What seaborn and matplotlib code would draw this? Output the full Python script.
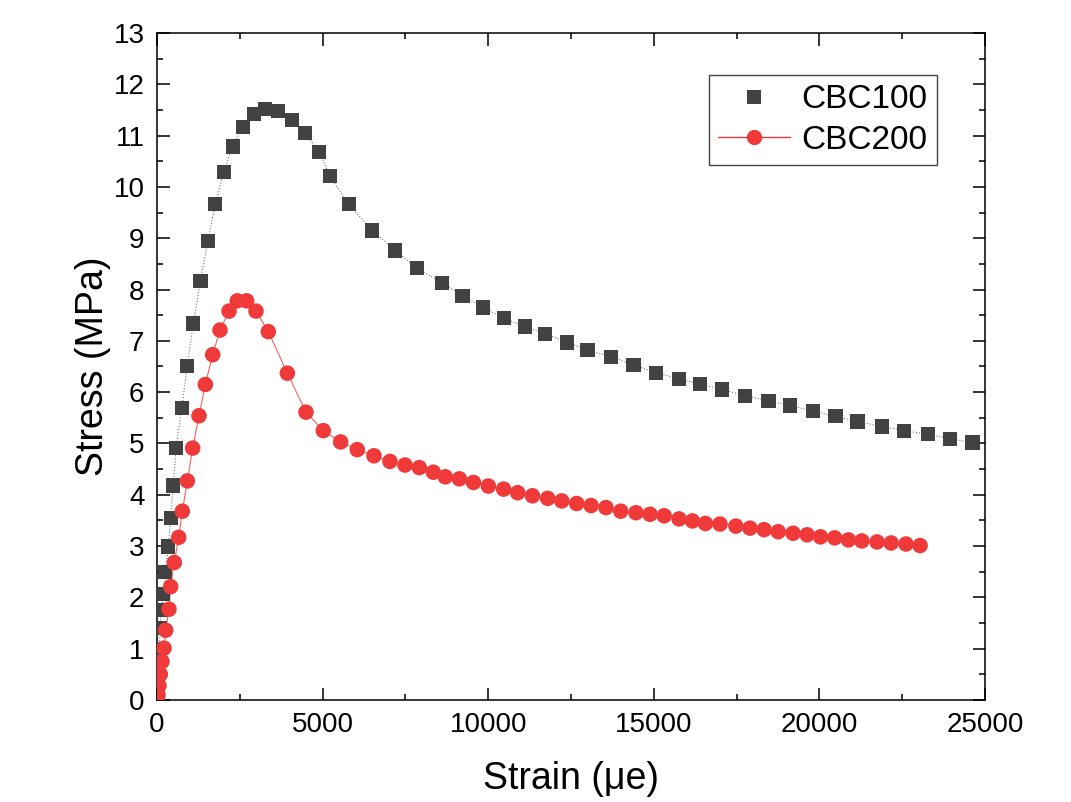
import numpy as np
import pandas as pd
import seaborn as sns
import matplotlib.pyplot as plt
from matplotlib.lines import Line2D
from matplotlib.ticker import MultipleLocator

# CBC100 数据 (应变 με, 应力 MPa)
strain_100 = [0, 20, 40, 65, 95, 130, 191, 242, 342, 413, 493, 574, 745, 916,
              1097, 1310, 1530, 1762, 2012, 2284, 2586, 2918, 3270, 3653, 4085,
              4477, 4900, 5223, 5787, 6500, 7195, 7850, 8600, 9226, 9845,
              10473, 11101, 11720, 12381, 12999, 13715, 14386, 15068, 15750,
              16390, 17062, 17765, 18460, 19121, 19813, 20486, 21147, 21893,
              22543, 23268, 23950, 24620]
stress_100 = [0, 0.3, 0.65, 1.0, 1.4, 1.75, 2.06, 2.49, 2.99, 3.55, 4.18, 4.91,
              5.69, 6.51, 7.34, 8.16, 8.94, 9.66, 10.29, 10.79, 11.17, 11.42,
              11.52, 11.48, 11.30, 11.05, 10.68, 10.21, 9.66, 9.15, 8.76, 8.42,
              8.13, 7.88, 7.65, 7.44, 7.28, 7.14, 6.97, 6.82, 6.69, 6.53, 6.38,
              6.26, 6.16, 6.05, 5.93, 5.83, 5.74, 5.63, 5.53, 5.43, 5.33, 5.25,
              5.18, 5.09, 5.02]

# CBC200 数据
strain_200 = [0, 30, 60, 100, 150, 211, 262, 362, 413, 523, 655, 765, 916, 1077,
              1268, 1459, 1681, 1902, 2174, 2424, 2707, 2989, 3361, 3935, 4498,
              5021, 5544, 6046, 6551, 7034, 7487, 7919, 8342, 8703, 9129, 9555,
              10005, 10464, 10890, 11336, 11795, 12221, 12671, 13106, 13556,
              14002, 14461, 14887, 15313, 15762, 16167, 16560, 16998, 17478,
              17904, 18331, 18757, 19205, 19630, 20035, 20462, 20876, 21281,
              21740, 22167, 22614, 23040]
stress_200 = [0, 0.1, 0.28, 0.5, 0.75, 1.01, 1.36, 1.77, 2.21, 2.68, 3.17, 3.68,
              4.27, 4.91, 5.54, 6.15, 6.73, 7.21, 7.58, 7.78, 7.78, 7.58, 7.18,
              6.37, 5.61, 5.25, 5.03, 4.88, 4.76, 4.65, 4.58, 4.53, 4.44, 4.35,
              4.31, 4.24, 4.17, 4.11, 4.04, 3.98, 3.93, 3.88, 3.83, 3.79, 3.75,
              3.68, 3.65, 3.62, 3.59, 3.53, 3.49, 3.44, 3.43, 3.39, 3.35, 3.32,
              3.28, 3.25, 3.22, 3.18, 3.16, 3.12, 3.10, 3.08, 3.06, 3.04, 3.01]

df100 = pd.DataFrame({'strain': strain_100, 'stress': stress_100})
df200 = pd.DataFrame({'strain': strain_200, 'stress': stress_200})

sns.set_style('ticks')
plt.rcParams['font.family'] = ['Liberation Sans', 'DejaVu Sans']
plt.rcParams['text.color'] = 'black'
plt.rcParams['axes.labelcolor'] = 'black'
plt.rcParams['xtick.color'] = 'black'
plt.rcParams['ytick.color'] = 'black'

fig = plt.figure(figsize=(10.71, 8.02), dpi=100)
ax = fig.add_axes([157/1071, 1-700/802, (985-157)/1071, (700-33)/802])

c_black = '#424242'
c_red = '#f03a3a'

# CBC100 连线 + 方块
sns.lineplot(data=df100, x='strain', y='stress', sort=False, color='#777777',
             linewidth=0.8, linestyle=':', ax=ax)
sns.scatterplot(data=df100, x='strain', y='stress', marker='s', s=105,
                color=c_black, edgecolor='none', ax=ax, zorder=3)
# CBC200 连线 + 圆点
sns.lineplot(data=df200, x='strain', y='stress', sort=False, color=c_red,
             linewidth=0.8, alpha=0.8, ax=ax)
sns.scatterplot(data=df200, x='strain', y='stress', marker='o', s=125,
                color=c_red, edgecolor='none', ax=ax, zorder=4)

ax.set_xlim(0, 25000)
ax.set_ylim(0, 13)
ax.xaxis.set_major_locator(MultipleLocator(5000))
ax.xaxis.set_minor_locator(MultipleLocator(2500))
ax.yaxis.set_major_locator(MultipleLocator(1))
ax.yaxis.set_minor_locator(MultipleLocator(0.5))
ax.tick_params(which='both', direction='in', top=True, right=True,
               width=1.1, color='black')
ax.tick_params(which='major', length=9, labelsize=20, pad=9)
ax.tick_params(which='minor', length=4.5)
ax.tick_params(axis='x', labeltop=False)
ax.tick_params(axis='y', labelright=False)
for sp in ax.spines.values():
    sp.set_linewidth(1.1)
    sp.set_color('black')

ax.set_xlabel('Strain (μe)', fontsize=27, labelpad=16)
ax.set_ylabel('Stress (MPa)', fontsize=27, labelpad=2)

handles = [Line2D([], [], linestyle='none', marker='s', markersize=10,
                  color=c_black, markeredgewidth=0),
           Line2D([], [], color=c_red, linewidth=1.0, marker='o',
                  markersize=11, markeredgewidth=0)]
leg = ax.legend(handles, ['CBC100', 'CBC200'], loc='upper right',
                bbox_to_anchor=(0.942, 0.937), borderaxespad=0, fontsize=24,
                frameon=True, fancybox=False, edgecolor='#444444',
                framealpha=1, handlelength=2.15, handletextpad=0.35,
                labelspacing=0.28, borderpad=0.28)
leg.get_frame().set_linewidth(1.0)

plt.savefig('out.png', dpi=100)
